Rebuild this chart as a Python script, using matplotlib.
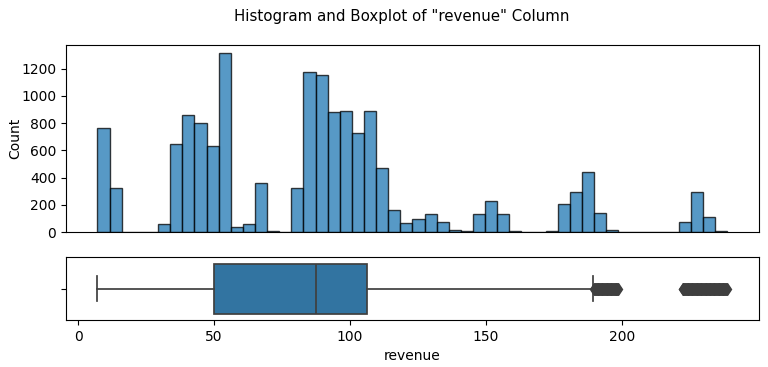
import numpy as np
import matplotlib.pyplot as plt

# histogram of "revenue": 52 equal bins
bin_start = 7.1
bin_width = 4.455
counts = [760, 320, 0, 0, 0, 62, 645, 857, 800, 633,
          1311, 40, 57, 359, 10, 0, 320, 1178, 1155, 878,
          886, 727, 891, 471, 162, 64, 96, 130, 76, 17,
          5, 130, 228, 130, 10, 0, 0, 8, 208, 292,
          442, 142, 15, 0, 0, 0, 0, 0, 71, 292,
          108, 10]
count_ticks = [0, 200, 400, 600, 800, 1000, 1200]
revenue_ticks = [0, 50, 100, 150, 200]

# boxplot summary
box_q1 = 50.1
box_median = 87.6
box_q3 = 106.1
box_whislo = 7.1
box_whishi = 189.4
fliers = [189.8, 190.1, 190.4, 190.7, 191.0, 191.3, 191.6, 191.9, 192.2, 192.5,
          192.8, 193.1, 193.4, 193.7, 194.0, 194.3, 194.6, 194.9, 195.2, 195.5,
          195.8, 196.1, 196.4, 196.7, 197.0, 197.3, 197.6, 197.9, 198.2, 198.5,
          222.3, 222.6, 222.9, 223.2, 223.5, 223.8, 224.1, 224.4, 224.7, 225.0,
          225.3, 225.6, 225.9, 226.2, 226.5, 226.8, 227.1, 227.4, 227.7, 228.0,
          228.3, 228.6, 228.9, 229.2, 229.5, 229.8, 230.1, 230.4, 230.7, 231.0,
          231.3, 231.6, 231.9, 232.2, 232.5, 232.8, 233.1, 233.4, 233.7, 234.0,
          234.3, 234.6, 234.9, 235.2, 235.5, 235.8, 236.1, 236.4, 236.7, 237.0,
          237.3, 237.6, 237.9, 238.2, 238.6]

edges = bin_start + bin_width * np.arange(len(counts) + 1)

fig = plt.figure(figsize=(7.68, 3.67), dpi=100)
ax_hist = fig.add_axes([0.0859, 0.3678, 0.9023, 0.5109])
ax_box = fig.add_axes([0.0859, 0.1281, 0.9023, 0.1708], sharex=ax_hist)

ax_hist.hist(edges[:-1], bins=edges, weights=counts, color="#1f77b4",
             alpha=0.75, edgecolor="black", linewidth=1.0)
ax_hist.set_ylabel("Count", labelpad=-1)
ax_hist.tick_params(bottom=False, labelbottom=False)
ax_hist.set_ylim(0, max(counts) * 1.05)
ax_hist.set_yticks(count_ticks)

span = edges[-1] - edges[0]
ax_hist.set_xlim(edges[0] - 0.05 * span, edges[-1] + 0.05 * span)

line_color = "#3f3f3f"
stats = [dict(med=box_median, q1=box_q1, q3=box_q3, whislo=box_whislo,
              whishi=box_whishi, fliers=fliers)]
ax_box.bxp(stats, positions=[0], widths=0.8, orientation="horizontal",
           patch_artist=True, capwidths=0.4,
           boxprops=dict(facecolor="#3274a1", edgecolor=line_color, linewidth=1.25),
           medianprops=dict(color=line_color, linewidth=1.25),
           whiskerprops=dict(color=line_color, linewidth=1.25),
           capprops=dict(color=line_color, linewidth=1.25),
           flierprops=dict(marker="d", markersize=6, markerfacecolor=line_color,
                           markeredgecolor=line_color, linestyle="none"))
ax_box.set_ylim(0.5, -0.5)
ax_box.set_yticks([0])
ax_box.set_yticklabels([""])
ax_box.set_xticks(revenue_ticks)
ax_box.set_xlabel("revenue")

fig.suptitle('Histogram and Boxplot of "revenue" Column', x=0.523, y=0.975,
             fontsize=10.8)
fig.savefig("out.png", dpi=100)
